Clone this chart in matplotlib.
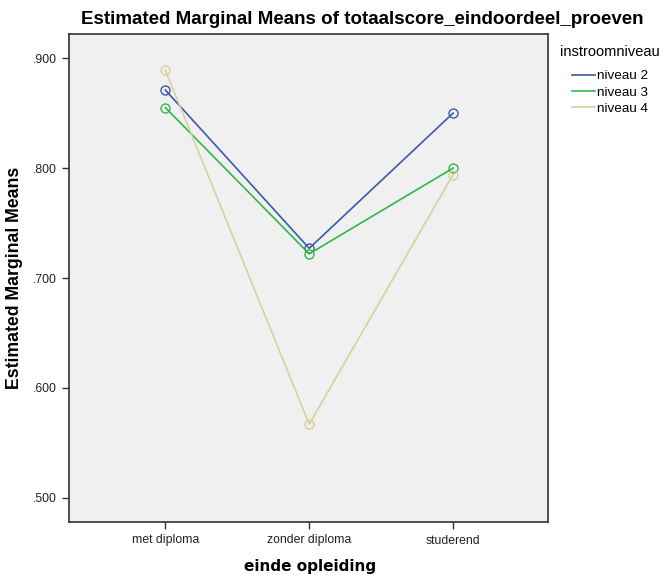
import matplotlib
matplotlib.use("Agg")
import matplotlib.pyplot as plt

plt.rcParams['font.family'] = ['Liberation Sans', 'DejaVu Sans']

categories = ["met diploma", "zonder diploma", "studerend"]
niveau2 = [0.871, 0.727, 0.850]
niveau3 = [0.855, 0.722, 0.800]
niveau4 = [0.889, 0.567, 0.794]
series_names = ["niveau 2", "niveau 3", "niveau 4"]
yticks = [0.5, 0.6, 0.7, 0.8, 0.9]
ytick_labels = [".500", ".600", ".700", ".800", ".900"]

colors = ["#3e58ac", "#2eb848", "#d8d29a"]

W, H = 663, 575
fig = plt.figure(figsize=(W / 100, H / 100), dpi=100)
ax = fig.add_axes([69 / W, 1 - 522 / H, (548 - 69) / W, (522 - 34) / H])
ax.set_facecolor("#f0f0f0")

x = range(len(categories))
for vals, name, c in zip([niveau2, niveau3, niveau4], series_names, colors):
    ax.plot(x, vals, color=c, lw=1.2, marker="o", markersize=6.5,
            markerfacecolor="none", markeredgecolor=c, markeredgewidth=1.0,
            label=name)

ax.set_xlim(-0.67, 2.66)
ax.set_ylim(0.478, 0.922)
ax.set_xticks(list(x))
ax.set_xticklabels(categories, fontsize=8.8)
ax.set_yticks(yticks)
ax.set_yticklabels(ytick_labels, fontsize=8.8)
ax.tick_params(length=5, width=1, color="#333333", labelcolor="#222222", pad=4)
for s in ax.spines.values():
    s.set_color("#333333")
    s.set_linewidth(1.2)

# title is centred over plot + legend area, like SPSS does it
fig.text(362 / W, 1 - 19 / H,
         "Estimated Marginal Means of totaalscore_eindoordeel_proeven",
         fontsize=13.5, fontweight="bold", ha="center", va="center")
fig.text(244 / W, 1 - 566 / H, "einde opleiding", family="DejaVu Sans",
         fontsize=11, fontweight="bold", ha="left", va="center")
fig.text(15 / W, 1 - 278 / H, "Estimated Marginal Means", rotation=90,
         fontsize=12.7, fontweight="bold", ha="center", va="center")

# legend
fig.text(560 / W, 1 - 52 / H, "instroomniveau", fontsize=10.5,
         ha="left", va="center")
leg = fig.legend(loc="upper left", bbox_to_anchor=(572 / W, 1 - 70 / H),
                 frameon=False, fontsize=9.7, borderpad=0, borderaxespad=0,
                 handlelength=1.7, handletextpad=0.15, labelspacing=0.28)
for h in leg.legend_handles:
    h.set_marker("")

fig.savefig("out.png", dpi=100)
